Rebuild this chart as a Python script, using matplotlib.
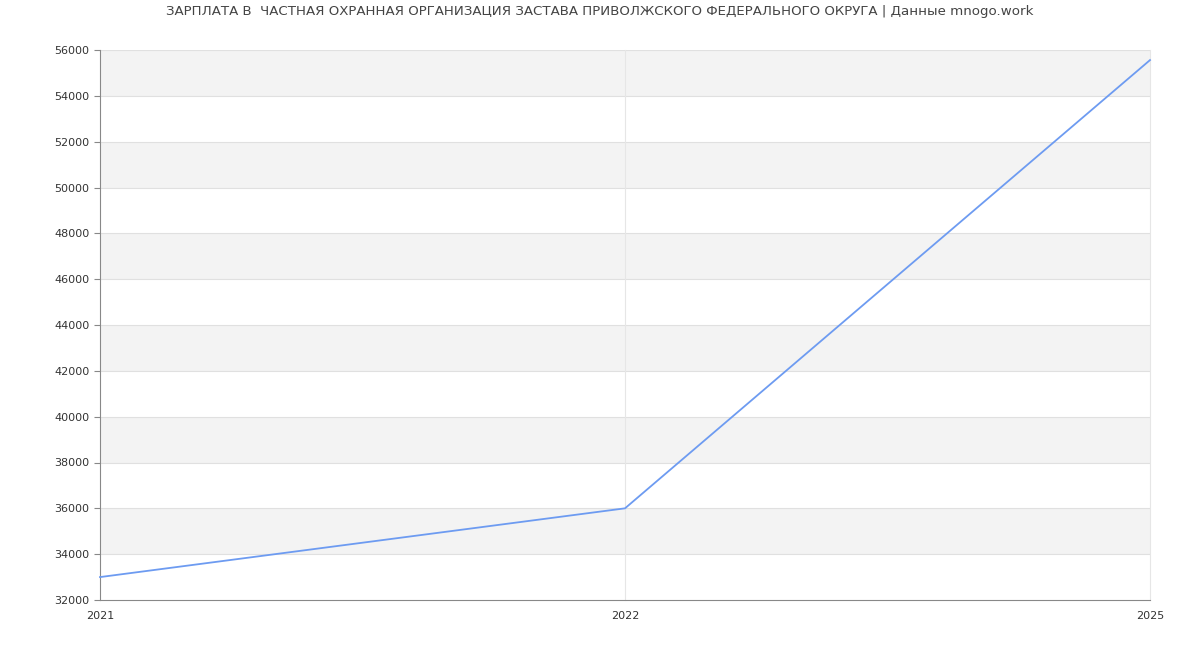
import matplotlib.pyplot as plt

years = ['2021', '2022', '2025']
salary = [33000, 36000, 55560]
title = 'ЗАРПЛАТА В  ЧАСТНАЯ ОХРАННАЯ ОРГАНИЗАЦИЯ ЗАСТАВА ПРИВОЛЖСКОГО ФЕДЕРАЛЬНОГО ОКРУГА | Данные mnogo.work'

plt.rcParams['font.family'] = ['DejaVu Sans']
fig = plt.figure(figsize=(12, 6.5), dpi=100)
ax = fig.add_axes([100 / 1200, 50 / 650, 1050 / 1200, 550 / 650])

x = list(range(len(years)))
ymin, ymax, step = 32000, 56000, 2000

# чередующиеся полосы фона
for i, y0 in enumerate(range(ymin, ymax, step)):
    if i % 2 == 1:
        ax.axhspan(y0, y0 + step, color='#f3f3f3', zorder=0, lw=0)
for y0 in range(ymin + step, ymax + 1, step):
    ax.axhline(y0, color='#e0e0e0', lw=0.8, zorder=1)
for xi in x[1:]:
    ax.axvline(xi, color='#e6e6e6', lw=0.8, zorder=1, clip_on=False)

ax.plot(x, salary, color='#6d9bf1', lw=1.3, zorder=3, clip_on=False)

ax.set_xlim(0, len(years) - 1)
ax.set_ylim(ymin, ymax)
ax.set_xticks(x)
ax.set_xticklabels(years)
ax.set_yticks(range(ymin, ymax + 1, step))
ax.tick_params(axis='both', labelsize=8, colors='#333333', length=4)
ax.tick_params(axis='x', length=0, pad=8)
ax.tick_params(axis='y', color='#888888')
for s in ['top', 'right']:
    ax.spines[s].set_visible(False)
ax.spines['left'].set_color('#888888')
ax.spines['bottom'].set_color('#888888')

fig.text(0.5, 1 - 12 / 650, title, ha='center', va='center', fontsize=9.6, color='#444444')
fig.savefig('out.png', dpi=100)
